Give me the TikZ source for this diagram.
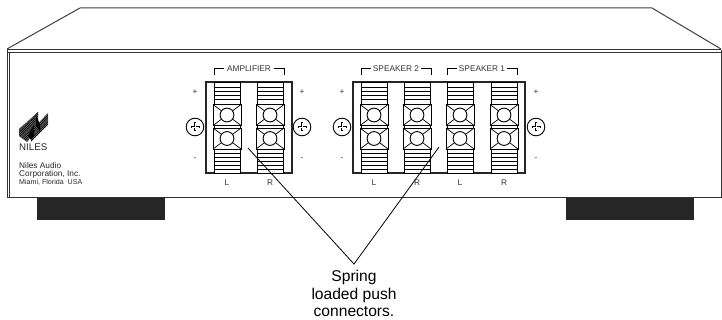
\documentclass[tikz,border=0pt]{standalone}
\usepackage{fontspec}
\setmainfont{Liberation Sans}
\tikzset{
  panel/.style={line width=1pt, black!75},
  plate/.style={line width=1.8pt, black!85},
  post/.style={line width=0.9pt, black},
  foot/.style={fill=black!85, draw=none},
  small/.style={font=\fontsize{8.3}{9}\selectfont, inner sep=0pt, text=black!80},
  maker/.style={font=\fontsize{8.3}{9}\selectfont, inner sep=0pt, anchor=west, text=black!85},
  callout/.style={font=\fontsize{15.6}{17.5}\selectfont, align=center, inner sep=0pt}
}
\begin{document}
\begin{tikzpicture}[x=1pt, y=-1pt]
  \useasboundingbox (0,0) rectangle (722,320);
  % cabinet
  \draw[panel] (7,49) -- (80,8) -- (652,8) -- (721,49);
  \draw[line width=1pt, black!80] (7,50) -- (721,50);
  \draw[line width=1pt, black!80] (8,53) -- (721,53);
  \draw[line width=1pt, black!80] (7,50) -- (7,198) -- (721,198) -- (721,50);
  \draw[line width=0.8pt, black!80] (9.5,53) -- (9.5,198);
  \fill[foot] (37,198) rectangle (165,220);
  \fill[foot] (566,198) rectangle (694,220);

  % plates
  \draw[plate] (206,82) rectangle (292,173);
  \draw[plate] (353,82) rectangle (525,173);

  % terminals
  \foreach \x in {227,270,374,417,460,504} {
    \draw[post, fill=white] (\x-13,82) rectangle (\x+13,173);
    \foreach \y in {87,91,95,99,153,157,161,165,169}
      \draw[line width=0.8pt] (\x-13,\y) -- (\x+13,\y);
    \foreach \yc in {115,138.5} {
      \draw[post, fill=white] (\x-14,\yc-10.5) rectangle (\x+14,\yc+10.5);
      \draw[line width=0.7pt] (\x-14,\yc-10.5) -- (\x+14,\yc+10.5);
      \draw[line width=0.7pt] (\x+14,\yc-10.5) -- (\x-14,\yc+10.5);
      \draw[post, fill=white] (\x,\yc) circle (6.9);
    }
  }

  % screws
  \foreach \x in {195,302,342,536} {
    \draw[line width=0.9pt, fill=white] (\x,127) circle (8.8);
    \draw[line width=2.2pt] (\x-4.5,127) -- (\x+4.5,127);
    \draw[line width=2.2pt] (\x,122.5) -- (\x,131.5);
    \draw[line width=0.6pt, white] (\x-3.5,127) -- (\x+3.5,127);
    \draw[line width=0.6pt, white] (\x,123.5) -- (\x,130.5);
    \node[small] (plus\x) at (\x,92.5) {+};
    \node[small] (minus\x) at (\x,159.5) {-};
  }

  % group brackets
  \draw[line width=0.7pt] (214,75) -- (214,68) -- (224,68);
  \draw[line width=0.7pt] (274,68) -- (284,68) -- (284,75);
  \node[small] (amplifier) at (249,69) {AMPLIFIER};
  \draw[line width=0.7pt] (361,75) -- (361,68) -- (371,68);
  \draw[line width=0.7pt] (421,68) -- (431,68) -- (431,75);
  \node[small] (speakertwo) at (396,69) {SPEAKER 2};
  \draw[line width=0.7pt] (447,75) -- (447,68) -- (457,68);
  \draw[line width=0.7pt] (507,68) -- (517,68) -- (517,75);
  \node[small] (speakerone) at (482,69) {SPEAKER 1};

  \foreach \x/\t in {227/L,270/R,374/L,417/R,460/L,504/R}
    \node[small] (chan\x) at (\x,183) {\t};

  % logo
  \begin{scope}
    \clip (19,129) -- (38,112) -- (38,128) -- (27,142) -- (19,136) -- cycle
          (32,130) -- (48,113) -- (48,125) -- (31,142) -- cycle;
    \foreach \i in {0,1.8,...,40}
      \draw[line width=0.9pt] (16,129+\i) -- (52,93+\i);
  \end{scope}
  \fill (36,116) -- (40,124) -- (40,132) -- (36,125) -- cycle;
  \fill (34,125) -- (34,136) -- (31,140) -- (28,135) -- cycle;

  \node[inner sep=0pt, anchor=west, font=\fontsize{9.7}{10}\selectfont, text=black!85] (logoname) at (19,147.5) {NILES};
  \node[maker] (makera) at (19,166) {Niles Audio};
  \node[maker] (makerb) at (19,174.5) {Corporation, Inc.};
  \node[maker, font=\fontsize{7.1}{8}\selectfont] (makerc) at (19,182.7) {Miami, Florida\ \ USA};

  % call-out
  \node[callout] (note) at (354,293.5) {Spring\\loaded push\\connectors.};
  \coordinate (apex) at (354,264);
  \coordinate (tipamp) at (248,148);
  \coordinate (tipspk) at (439,147);
  \draw[line width=0.8pt] (tipamp) -- (apex) -- (tipspk);
\end{tikzpicture}
\end{document}
